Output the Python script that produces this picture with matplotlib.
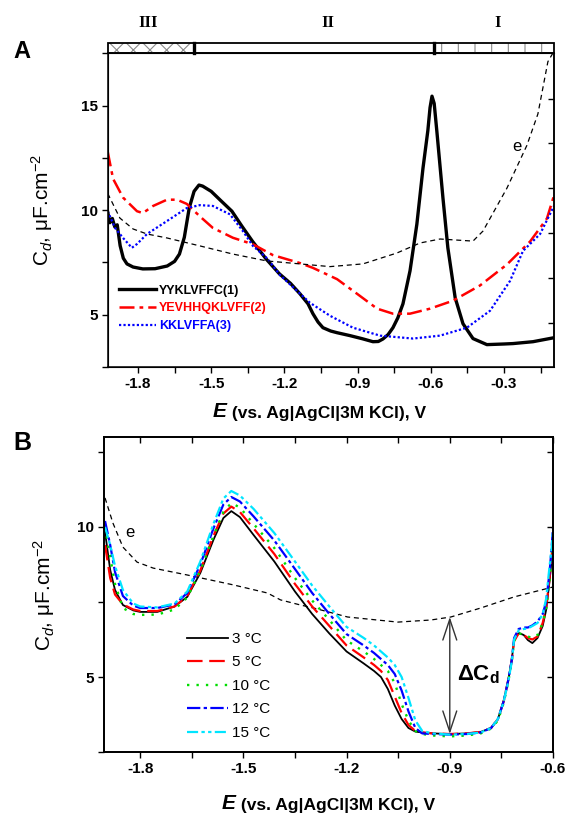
import matplotlib
matplotlib.use("Agg")
import matplotlib.pyplot as plt
from matplotlib.patches import Rectangle
from matplotlib.ticker import MultipleLocator

plt.rcParams['font.family'] = ['Liberation Sans', 'DejaVu Sans']
plt.rcParams['mathtext.fontset'] = 'custom'
plt.rcParams['mathtext.rm'] = 'Liberation Sans'
plt.rcParams['mathtext.it'] = 'Liberation Sans:italic'
plt.rcParams['mathtext.bf'] = 'Liberation Sans:bold'
plt.rcParams['axes.unicode_minus'] = False
plt.rcParams['hatch.linewidth'] = 0.8

# ---------------- panel A data ----------------
E_pep1 = [-1.924, -1.915, -1.905, -1.895, -1.885, -1.873, -1.86, -1.845, -1.82, -1.78,
          -1.73, -1.68, -1.65, -1.63, -1.61, -1.59, -1.57, -1.55, -1.535, -1.50,
          -1.46, -1.415, -1.375, -1.33, -1.275, -1.22, -1.175, -1.136, -1.103, -1.083,
          -1.062, -1.042, -1.01, -0.984, -0.931, -0.88, -0.837, -0.815, -0.796, -0.775,
          -0.755, -0.735, -0.714, -0.685, -0.657, -0.632, -0.612, -0.603, -0.595, -0.586,
          -0.575, -0.562, -0.55, -0.53, -0.50, -0.468, -0.427, -0.37, -0.30, -0.263,
          -0.181, -0.095]
C_pep1 = [9.9, 9.4, 9.6, 9.2, 9.3, 8.3, 7.7, 7.43, 7.28, 7.19,
          7.2, 7.33, 7.55, 7.9, 8.7, 10.1, 10.9, 11.2, 11.15, 10.9,
          10.45, 9.95, 9.25, 8.5, 7.67, 6.95, 6.5, 6.0, 5.52, 5.05,
          4.65, 4.38, 4.22, 4.14, 4.0, 3.85, 3.71, 3.72, 3.84, 4.05,
          4.38, 4.85, 5.52, 7.1, 9.33, 12.0, 13.8, 14.9, 15.45, 15.1,
          13.76, 12.1, 10.57, 8.2, 5.81, 4.57, 3.86, 3.57, 3.6, 3.62,
          3.71, 3.9]

E_pep2 = [-1.924, -1.902, -1.861, -1.804, -1.78, -1.738, -1.681, -1.64, -1.60, -1.546,
          -1.493, -1.411, -1.329, -1.247, -1.136, -1.083, -0.984, -0.902, -0.82, -0.755,
          -0.685, -0.603, -0.509, -0.398, -0.288, -0.193, -0.124, -0.095]
C_pep2 = [12.8, 11.5, 10.6, 9.95, 9.86, 10.2, 10.5, 10.5, 10.3, 9.7,
          9.15, 8.68, 8.37, 7.85, 7.47, 7.24, 6.7, 6.0, 5.29, 5.05,
          5.05, 5.29, 5.67, 6.4, 7.4, 8.5, 9.6, 10.7]

E_pep3 = [-1.924, -1.894, -1.861, -1.825, -1.804, -1.763, -1.681, -1.60, -1.546, -1.493,
          -1.423, -1.37, -1.329, -1.271, -1.218, -1.148, -1.095, -1.013, -0.919, -0.808,
          -0.673, -0.562, -0.452, -0.357, -0.275, -0.222, -0.152, -0.095]
C_pep3 = [9.95, 9.15, 8.67, 8.2, 8.38, 8.86, 9.48, 10.1, 10.24, 10.2,
          9.8, 9.0, 8.29, 7.7, 6.9, 6.14, 5.57, 4.95, 4.38, 4.0,
          3.86, 4.0, 4.38, 5.19, 6.62, 8.05, 8.86, 10.2]

E_eA = [-1.924, -1.874, -1.82, -1.763, -1.681, -1.546, -1.411, -1.271, -1.136, -1.013,
        -0.878, -0.739, -0.644, -0.562, -0.427, -0.386, -0.288, -0.206, -0.161, -0.12,
        -0.10]
C_eA = [10.8, 9.62, 9.1, 8.86, 8.67, 8.29, 7.9, 7.57, 7.43, 7.3,
        7.43, 7.95, 8.43, 8.62, 8.52, 9.0, 11.05, 13.1, 14.6, 17.1,
        17.5]

labels_A = ["YYKLVFFC(1)", "YEVHHQKLVFF(2)", "KKLVFFA(3)"]
band_edges = [-1.924, -1.571, -0.587, -0.095]
band_names = ["III", "II", "I"]
band_name_x = [-1.759, -1.021, -0.325]

xticks_A = [-1.8, -1.5, -1.2, -0.9, -0.6, -0.3]
xticklabels_A = ["-1.8", "-1.5", "-1.2", "-0.9", "-0.6", "-0.3"]
yticks_A = [5, 10, 15]
yticklabels_A = ["5", "10", "15"]
right_ticks_A = [4.62, 6.76, 8.9, 11.05, 13.19, 15.33]

# ---------------- panel B data ----------------
E_B = [-1.902, -1.887, -1.873, -1.85, -1.82, -1.80, -1.75, -1.70, -1.663, -1.625,
       -1.587, -1.558, -1.535, -1.51, -1.47, -1.41, -1.35, -1.30, -1.25, -1.20,
       -1.15, -1.12, -1.10, -1.08, -1.06, -1.04, -1.02, -1.00, -0.98, -0.95,
       -0.90, -0.85, -0.81, -0.78, -0.76, -0.743, -0.73, -0.72, -0.713, -0.70,
       -0.685, -0.673, -0.66, -0.645, -0.63, -0.62, -0.61, -0.604, -0.60]
C_3 = [9.83, 8.57, 7.9, 7.4, 7.22, 7.17, 7.17, 7.35, 7.67, 8.47,
       9.57, 10.3, 10.53, 10.33, 9.73, 8.85, 7.85, 7.1, 6.45, 5.85,
       5.45, 5.2, 5.0, 4.6, 4.05, 3.6, 3.3, 3.18, 3.15, 3.12,
       3.1, 3.12, 3.17, 3.3, 3.6, 4.23, 4.9, 5.57, 6.23, 6.47,
       6.4, 6.23, 6.13, 6.3, 6.7, 7.23, 8.2, 8.9, 9.4]
C_5 = [9.4, 8.3, 7.75, 7.42, 7.25, 7.2, 7.2, 7.35, 7.7, 8.55,
       9.7, 10.45, 10.68, 10.5, 9.95, 9.1, 8.1, 7.35, 6.7, 6.05,
       5.65, 5.4, 5.2, 4.9, 4.35, 3.8, 3.4, 3.2, 3.15, 3.12,
       3.1, 3.12, 3.17, 3.3, 3.6, 4.2, 4.9, 5.55, 6.2, 6.45,
       6.4, 6.3, 6.25, 6.35, 6.8, 7.3, 8.3, 9.0, 9.6]
C_10 = [10.0, 9.0, 8.1, 7.3, 7.1, 7.07, 7.08, 7.25, 7.65, 8.55,
        9.7, 10.5, 10.8, 10.65, 10.1, 9.3, 8.3, 7.55, 6.9, 6.22,
        5.85, 5.6, 5.4, 5.2, 4.8, 4.1, 3.55, 3.2, 3.1, 3.05,
        3.02, 3.05, 3.12, 3.28, 3.55, 4.15, 4.85, 5.5, 6.2, 6.45,
        6.42, 6.35, 6.3, 6.4, 6.8, 7.25, 8.2, 9.0, 9.6]
C_12 = [10.2, 9.4, 8.5, 7.7, 7.38, 7.3, 7.3, 7.42, 7.8, 8.75,
        9.95, 10.75, 11.0, 10.85, 10.35, 9.55, 8.6, 7.8, 7.1, 6.43,
        6.05, 5.8, 5.6, 5.4, 5.1, 4.55, 3.85, 3.3, 3.12, 3.1,
        3.08, 3.1, 3.15, 3.3, 3.6, 4.2, 4.9, 5.55, 6.3, 6.6,
        6.65, 6.65, 6.72, 6.85, 7.1, 7.5, 8.5, 9.3, 10.0]
C_15 = [10.0, 9.4, 8.7, 7.9, 7.45, 7.35, 7.32, 7.45, 7.85, 8.85,
        10.1, 10.95, 11.2, 11.05, 10.6, 9.8, 8.85, 8.05, 7.35, 6.67,
        6.3, 6.05, 5.85, 5.65, 5.4, 5.0, 4.3, 3.55, 3.2, 3.12,
        3.08, 3.1, 3.15, 3.3, 3.6, 4.2, 4.85, 5.5, 6.25, 6.55,
        6.6, 6.62, 6.7, 6.8, 7.1, 7.6, 8.7, 9.3, 9.9]

E_eB = [-1.902, -1.879, -1.85, -1.809, -1.762, -1.663, -1.529, -1.43, -1.392, -1.334,
        -1.296, -1.197, -1.051, -0.955, -0.897, -0.81, -0.713, -0.60]
C_eB = [10.97, 10.13, 9.33, 8.83, 8.63, 8.4, 8.07, 7.8, 7.57, 7.4,
        7.3, 7.0, 6.83, 6.9, 7.0, 7.3, 7.67, 8.0]

temps_B = ["3 °C", "5 °C", "10 °C", "12 °C", "15 °C"]
delta_E = -0.9
delta_top, delta_bottom = 7.0, 3.1

xticks_B = [-1.8, -1.5, -1.2, -0.9, -0.6]
xticklabels_B = ["-1.8", "-1.5", "-1.2", "-0.9", "-0.6"]
yticks_B = [5, 10]
yticklabels_B = ["5", "10"]
top_ticks_B = [-1.8, -1.65, -1.5, -1.35, -1.2, -1.05, -0.9, -0.75, -0.6]
right_ticks_B = [5, 7.5, 10, 12.5]

W, H = 569, 813
fig = plt.figure(figsize=(W / 100, H / 100), dpi=100)


def frame(ax, xlim, ylim, xt, xtl, yt, ytl):
    ax.set_xlim(*xlim)
    ax.set_ylim(*ylim)
    ax.set_xticks(xt)
    ax.set_xticklabels(xtl, fontweight='bold', fontsize=11)
    ax.set_yticks(yt)
    ax.set_yticklabels(ytl, fontweight='bold', fontsize=11)
    ax.xaxis.set_minor_locator(MultipleLocator(0.15))
    ax.yaxis.set_minor_locator(MultipleLocator(2.5))
    ax.tick_params(which='both', direction='out', length=4, width=1, pad=3)
    for s in ax.spines.values():
        s.set_linewidth(1.1)


def xlabel(ax, x_px, y_px):
    e = fig.text(x_px / W, 1 - y_px / H, "E", fontsize=15, fontweight='bold',
                 fontstyle='italic', va='baseline', ha='left')
    ax.annotate(" (vs. Ag|AgCl|3M KCl), V", xy=(1, 0), xycoords=e, va='bottom',
                ha='left', fontsize=12.5, fontweight='bold', annotation_clip=False)


# ---------------- panel A ----------------
axA = fig.add_axes([107.7 / W, 1 - 367 / H, (554 - 107.7) / W, (367 - 53.3) / H])
frame(axA, (-1.924, -0.095), (2.5, 17.5), xticks_A, xticklabels_A, yticks_A, yticklabels_A)
axA.tick_params(which='both', top=False)

l1, = axA.plot(E_pep1, C_pep1, color='black', lw=2.4)
l2, = axA.plot(E_pep2, C_pep2, color='red', lw=1.8, dashes=(6, 2, 1.5, 2))
l3, = axA.plot(E_pep3, C_pep3, color='blue', lw=1.6, dashes=(1, 1))
axA.plot(E_eA, C_eA, color='black', lw=0.9, dashes=(4, 3))
axA.text(-0.247, 13.05, "e", fontsize=12, ha='center', va='center')

legA = axA.legend([l1, l2, l3], labels_A, loc='upper left', bbox_to_anchor=(0.005, 0.29),
                  frameon=False, prop={'weight': 'bold', 'size': 9}, handlelength=3.0,
                  handletextpad=0.2, labelspacing=0.45, borderpad=0.2)
for txt, col in zip(legA.get_texts(), ['black', 'red', 'blue']):
    txt.set_color(col)

axA.set_ylabel(r"C$_{\mathit{d}}$, μF.cm$^{\mathrm{-2}}$", fontsize=15)
axA.yaxis.set_label_coords(-0.118, 0.5)

axAr = axA.twinx()
axAr.set_ylim(axA.get_ylim())
axAr.set_yticks(right_ticks_A)
axAr.tick_params(direction='in', length=4, width=1, labelright=False)
axAr.spines['right'].set_linewidth(1.1)

# band of regions I-III above panel A
axBand = fig.add_axes([107.7 / W, 1 - 53.3 / H, (554 - 107.7) / W, 10.6 / H])
axBand.set_xlim(-1.924, -0.095)
axBand.set_ylim(0, 1)
axBand.axis('off')
hatches = ['xx', '', '|']
for i in range(3):
    x0, x1 = band_edges[i], band_edges[i + 1]
    axBand.add_patch(Rectangle((x0, 0), x1 - x0, 1, fill=False, hatch=hatches[i],
                               edgecolor='#8a8a8a', lw=0))
    axBand.text(band_name_x[i], 2.9, band_names[i], fontsize=12, fontweight='bold',
                family='Liberation Serif', ha='center', va='center')
axBand.add_patch(Rectangle((band_edges[0], 0), band_edges[-1] - band_edges[0], 1,
                           fill=False, edgecolor='black', lw=1.3, clip_on=False))
for xb in band_edges[1:-1]:
    axBand.plot([xb, xb], [0, 1], color='black', lw=2.4, clip_on=False)

xlabel(axA, 213, 417)
fig.text(22 / W, 1 - 52 / H, "A", fontsize=17, fontweight='bold', ha='center', va='center')

# ---------------- panel B ----------------
axB = fig.add_axes([104 / W, 1 - 752 / H, (553 - 104) / W, (752 - 437) / H])
frame(axB, (-1.905, -0.6), (2.5, 13), xticks_B, xticklabels_B, yticks_B, yticklabels_B)

axB.plot(E_eB, C_eB, color='black', lw=0.9, dashes=(4, 3))
b1, = axB.plot(E_B, C_3, color='black', lw=1.3)
b2, = axB.plot(E_B, C_5, color='red', lw=1.6, dashes=(7, 3))
b3, = axB.plot(E_B, C_10, color='#00dd00', lw=1.7, dashes=(1, 3))
b4, = axB.plot(E_B, C_12, color='blue', lw=1.6, dashes=(6, 1.5, 1.5, 1.5))
b5, = axB.plot(E_B, C_15, color='#00e5ff', lw=1.6, dashes=(5, 1.5, 1.5, 1.5, 1.5, 1.5))
axB.text(-1.83, 9.83, "e", fontsize=12, ha='center', va='center')

axB.annotate("", xy=(delta_E, delta_bottom), xytext=(delta_E, delta_top),
             arrowprops=dict(arrowstyle='<->,head_length=0.75,head_width=0.25',
                             color='#333333', lw=1.0, mutation_scale=20,
                             shrinkA=0, shrinkB=0))
axB.text(-0.878, 4.9, r"ΔC$_{\mathbf{d}}$", fontsize=16, fontweight='bold',
         ha='left', va='baseline')

axB.legend([b1, b2, b3, b4, b5], temps_B, loc='upper left', bbox_to_anchor=(0.16, 0.415),
           frameon=False, fontsize=11, handlelength=2.7, handletextpad=0.3,
           labelspacing=0.62, borderpad=0.2)

axB.set_ylabel(r"C$_{\mathit{d}}$, μF.cm$^{\mathrm{-2}}$", fontsize=15)
axB.yaxis.set_label_coords(-0.105, 0.5)

axBt = axB.twiny()
axBt.set_xlim(axB.get_xlim())
axBt.set_xticks(top_ticks_B)
axBt.tick_params(direction='in', length=4, width=1, labeltop=False)
axBr = axB.twinx()
axBr.set_ylim(axB.get_ylim())
axBr.set_yticks(right_ticks_B)
axBr.tick_params(direction='in', length=4, width=1, labelright=False)
for a in (axBt, axBr):
    for s in a.spines.values():
        s.set_linewidth(1.1)

xlabel(axB, 222, 809)
fig.text(22 / W, 1 - 443 / H, "B", fontsize=18, fontweight='bold', ha='center', va='center')

fig.savefig("out.png", dpi=100)
